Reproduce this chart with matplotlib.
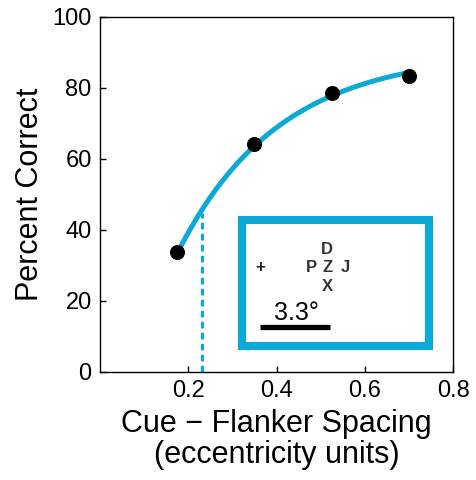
import matplotlib
matplotlib.use("Agg")
import matplotlib.pyplot as plt
import numpy as np

# data
spacing = [0.175, 0.35, 0.525, 0.70]
pct_correct = [33.8, 64.3, 78.5, 83.3]

# points
curve_x = [0.174, 0.196, 0.230, 0.257, 0.291, 0.321, 0.347, 0.392, 0.438,
           0.483, 0.525, 0.567, 0.612, 0.657, 0.699]
curve_y = [33.9, 39.1, 44.7, 49.4, 54.6, 59.2, 63.9, 68.9, 72.9,
           76.1, 78.5, 80.2, 81.5, 82.5, 83.4]

threshold_x = 0.230
threshold_y = 44.7

xticks = [0.2, 0.4, 0.6, 0.8]
yticks = [0, 20, 40, 60, 80, 100]

CYAN = '#0aa9d8'
plt.rcParams['font.family'] = ['Liberation Sans', 'DejaVu Sans']

fig = plt.figure(figsize=(4.76, 4.8), dpi=100)
ax = fig.add_axes([0.210, 0.225, 0.742, 0.740])

# least-squares fit of a saturating curve y = A - B*exp(-k*x) to the read points
cx = np.array(curve_x)
cy = np.array(curve_y)
best = None
for k in np.linspace(1.0, 12.0, 1101):
    M = np.column_stack([np.ones_like(cx), -np.exp(-k * cx)])
    sol, res, *_ = np.linalg.lstsq(M, cy, rcond=None)
    err = np.sum((M @ sol - cy) ** 2)
    if best is None or err < best[0]:
        best = (err, k, sol)
_, k_fit, (A_fit, B_fit) = best
xs = np.linspace(cx[0], cx[-1], 200)
ax.plot(xs, A_fit - B_fit * np.exp(-k_fit * xs), color=CYAN, lw=3.6,
        solid_capstyle='round', zorder=2)
ax.plot(spacing, pct_correct, 'o', color='black', ms=9.8, zorder=3)
ax.plot([threshold_x, threshold_x], [0, threshold_y], color=CYAN, lw=2.2,
        linestyle=(0, (2.2, 1.4)), zorder=2)

# inset stimulus box
ax.plot([0.322, 0.746, 0.746, 0.322, 0.322], [42.8, 42.8, 7.3, 7.3, 42.8],
        color=CYAN, lw=5.8, solid_joinstyle='miter', zorder=2)
ax.text(0.363, 29.3, '+', ha='center', va='center', fontsize=12,
        fontweight='bold', color='#222222')
for ch, (px, py) in zip(['P', 'Z', 'J', 'D', 'X'],
                        [(0.479, 29.3), (0.515, 29.3), (0.555, 29.3),
                         (0.515, 34.4), (0.515, 24.2)]):
    ax.text(px, py, ch, ha='center', va='center', fontsize=12,
            fontweight='bold', color='#333333')
ax.text(0.444, 14.6, '3.3°', ha='center', va='baseline', fontsize=18,
        color='black')
ax.plot([0.363, 0.522], [12.6, 12.6], color='black', lw=3.8,
        solid_capstyle='butt')

ax.set_xlim(0, 0.8)
ax.set_ylim(0, 100)
ax.set_xticks(xticks)
ax.set_xticklabels([f'{t:.1f}' for t in xticks])
ax.set_yticks(yticks)
ax.tick_params(direction='in', length=4, width=1, labelsize=17, pad=6)
for s in ax.spines.values():
    s.set_linewidth(1.0)

ax.set_xlabel('Cue − Flanker Spacing\n(eccentricity units)', fontsize=22,
              linespacing=1.05, labelpad=5)
ax.set_ylabel('Percent Correct', fontsize=22, labelpad=5)

fig.savefig('out.png', dpi=100)
